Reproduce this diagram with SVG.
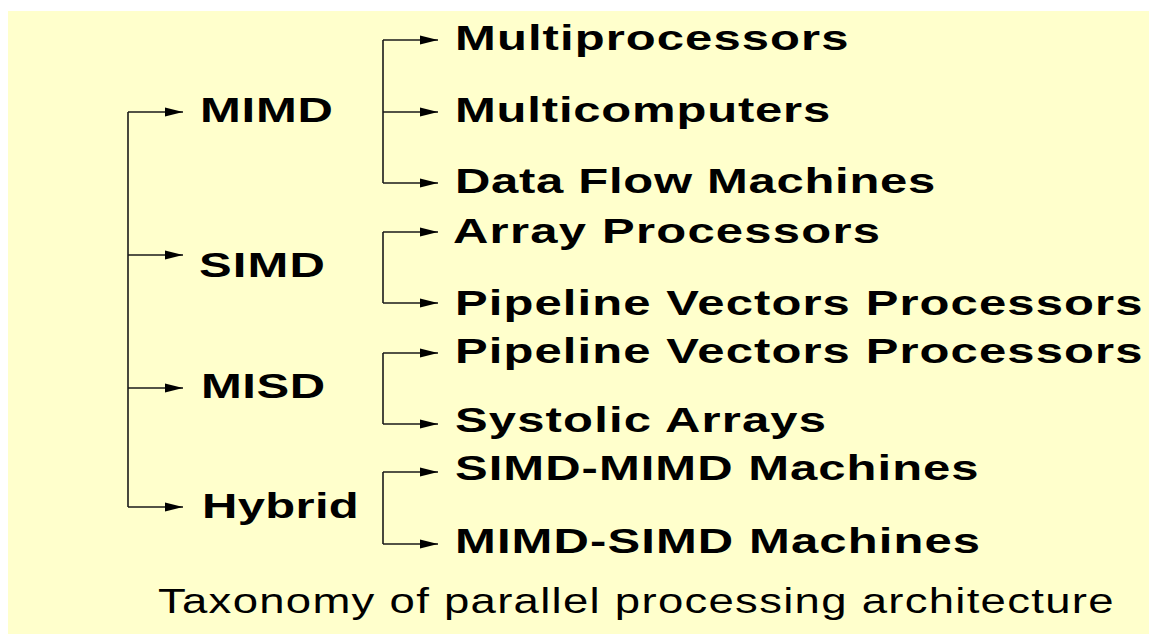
<svg xmlns="http://www.w3.org/2000/svg" width="1149" height="634" viewBox="0 0 1149 634">
  <style>
    .lbl { font-family: "Liberation Sans", Arial, sans-serif; font-weight: bold; font-size: 35px; fill: #000; }
    .cap { font-family: "Liberation Sans", Arial, sans-serif; font-size: 35px; fill: #000; }
    .wire { fill: none; stroke: #1a1a1a; stroke-width: 1.6; }
    .arr { fill: none; stroke: #1a1a1a; stroke-width: 1.6; marker-end: url(#head); }
  </style>
  <defs>
    <marker id="head" markerUnits="userSpaceOnUse" markerWidth="18" markerHeight="10" refX="18" refY="5" orient="auto" viewBox="0 0 18 10">
      <path d="M0,0.5 L18,5 L0,9.5 Z" fill="#000"/>
    </marker>
  </defs>

  <!-- page background -->
  <rect x="0" y="0" width="1149" height="634" fill="#ffffff"/>
  <rect x="8" y="11" width="1141" height="623" fill="#ffffcc"/>

  <!-- connectors -->
  <g id="connectors">
    <!-- root trunk -->
    <path class="wire" d="M128,112 V507"/>
    <path class="arr" d="M128,112 H183"/>
    <path class="arr" d="M128,255 H183"/>
    <path class="arr" d="M128,388 H183"/>
    <path class="arr" d="M128,507 H183"/>
    <!-- MIMD branch -->
    <path class="wire" d="M383,40 V183"/>
    <path class="arr" d="M383,40 H438"/>
    <path class="arr" d="M383,112 H438"/>
    <path class="arr" d="M383,183 H438"/>
    <!-- SIMD branch -->
    <path class="wire" d="M383,232 V303"/>
    <path class="arr" d="M383,232 H438"/>
    <path class="arr" d="M383,303 H438"/>
    <!-- MISD branch -->
    <path class="wire" d="M383,353 V424"/>
    <path class="arr" d="M383,353 H438"/>
    <path class="arr" d="M383,424 H438"/>
    <!-- Hybrid branch -->
    <path class="wire" d="M383,472 V544"/>
    <path class="arr" d="M383,472 H438"/>
    <path class="arr" d="M383,544 H438"/>
  </g>

  <!-- class nodes -->
  <g id="mimd"><text class="lbl" transform="translate(200,122) scale(1.4,1)" textLength="95" lengthAdjust="spacing">MIMD</text></g>
  <g id="simd"><text class="lbl" transform="translate(199,277) scale(1.4,1)" textLength="90" lengthAdjust="spacing">SIMD</text></g>
  <g id="misd"><text class="lbl" transform="translate(201,398) scale(1.4,1)" textLength="88.6" lengthAdjust="spacing">MISD</text></g>
  <g id="hybrid"><text class="lbl" transform="translate(202,518) scale(1.4,1)" textLength="112" lengthAdjust="spacing">Hybrid</text></g>

  <!-- leaf nodes -->
  <g id="multiprocessors"><text class="lbl" transform="translate(455,50) scale(1.4,1)" textLength="281" lengthAdjust="spacing">Multiprocessors</text></g>
  <g id="multicomputers"><text class="lbl" transform="translate(455,122) scale(1.4,1)" textLength="268" lengthAdjust="spacing">Multicomputers</text></g>
  <g id="dataflow"><text class="lbl" transform="translate(455,193) scale(1.4,1)" textLength="343" lengthAdjust="spacing">Data Flow Machines</text></g>
  <g id="array"><text class="lbl" transform="translate(453,243) scale(1.4,1)" textLength="305" lengthAdjust="spacing">Array Processors</text></g>
  <g id="pipeline-simd"><text class="lbl" transform="translate(455,315) scale(1.4,1)" textLength="491" lengthAdjust="spacing">Pipeline Vectors Processors</text></g>
  <g id="pipeline-misd"><text class="lbl" transform="translate(455,363) scale(1.4,1)" textLength="491" lengthAdjust="spacing">Pipeline Vectors Processors</text></g>
  <g id="systolic"><text class="lbl" transform="translate(455,432) scale(1.4,1)" textLength="265" lengthAdjust="spacing">Systolic Arrays</text></g>
  <g id="simd-mimd"><text class="lbl" transform="translate(455,480) scale(1.4,1)" textLength="374" lengthAdjust="spacing">SIMD-MIMD Machines</text></g>
  <g id="mimd-simd"><text class="lbl" transform="translate(455,553) scale(1.4,1)" textLength="375" lengthAdjust="spacing">MIMD-SIMD Machines</text></g>

  <!-- caption -->
  <g id="caption"><text class="cap" transform="translate(158,613) scale(1.3,1)" textLength="735" lengthAdjust="spacing">Taxonomy of parallel processing architecture</text></g>
</svg>
